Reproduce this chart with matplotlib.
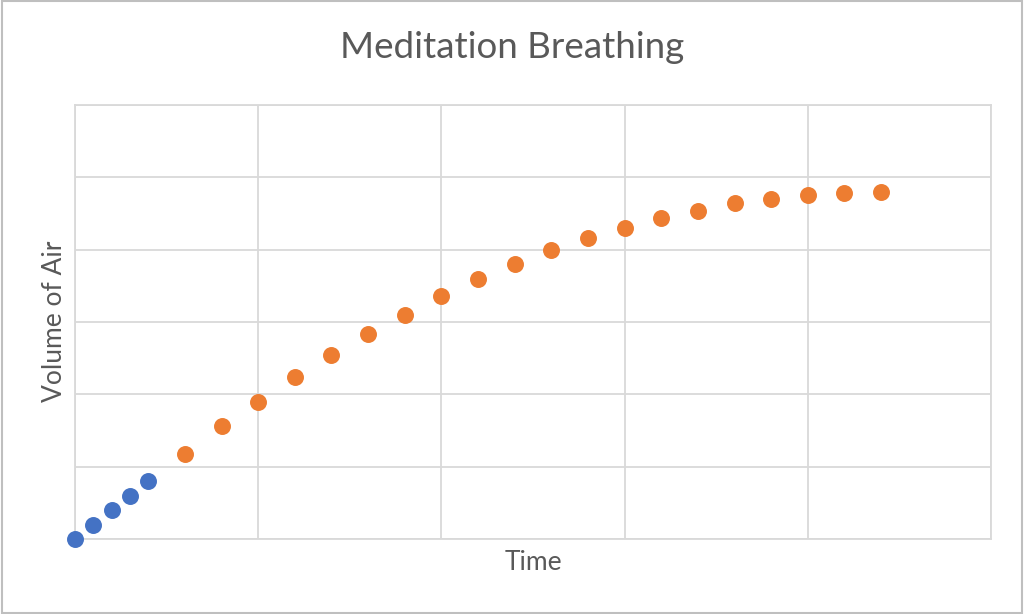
import matplotlib
matplotlib.use('Agg')
import matplotlib.pyplot as plt
from matplotlib.patches import Rectangle

# Inhale phase (blue) and continued breath (orange)
start_time = [0, 1, 2, 3, 4]
start_volume = [0.0, 0.2, 0.4, 0.6, 0.8]

breath_time = [6, 8, 10, 12, 14, 16, 18, 20, 22, 24,
               26, 28, 30, 32, 34, 36, 38, 40, 42, 44]
breath_volume = [1.18, 1.56, 1.90, 2.24, 2.54, 2.83, 3.10, 3.36, 3.59, 3.80,
                 3.99, 4.16, 4.30, 4.44, 4.54, 4.64, 4.70, 4.76, 4.78, 4.80]

plt.rcParams['font.family'] = ['Lato', 'DejaVu Sans']

fig = plt.figure(figsize=(10.24, 6.14), dpi=100)
ax = fig.add_axes([75 / 1024, 75 / 614, 916 / 1024, 434 / 614])

grid_color = '#D9D9D9'
text_color = '#595959'

ax.scatter(start_time, start_volume, s=125, color='#4472C4', zorder=3, clip_on=False)
ax.scatter(breath_time, breath_volume, s=125, color='#ED7D31', zorder=3, clip_on=False)

ax.set_xlim(0, 50)
ax.set_ylim(0, 6)
ax.set_xticks(range(0, 51, 10))
ax.set_yticks(range(0, 7))
ax.tick_params(length=0, labelbottom=False, labelleft=False)
ax.grid(True, color=grid_color, linewidth=1.3)
ax.set_axisbelow(True)
for spine in ax.spines.values():
    spine.set_color(grid_color)
    spine.set_linewidth(1.3)

fig.text(533 / 1024, 1 - 562 / 614, 'Time', fontsize=19, color=text_color,
         ha='center', va='center')
fig.text(55 / 1024, 1 - 321 / 614, 'Volume of Air', fontsize=19, color=text_color,
         ha='center', va='center', rotation=90)
fig.text(512 / 1024, 1 - 47 / 614, 'Meditation Breathing', fontsize=26.5,
         color=text_color, ha='center', va='center')

# chart area border
fig.patches.append(Rectangle((0.002, 0.002), 0.996, 0.996, transform=fig.transFigure,
                             fill=False, edgecolor='#BFBFBF', linewidth=1.5))

fig.savefig('out.png', dpi=100)
